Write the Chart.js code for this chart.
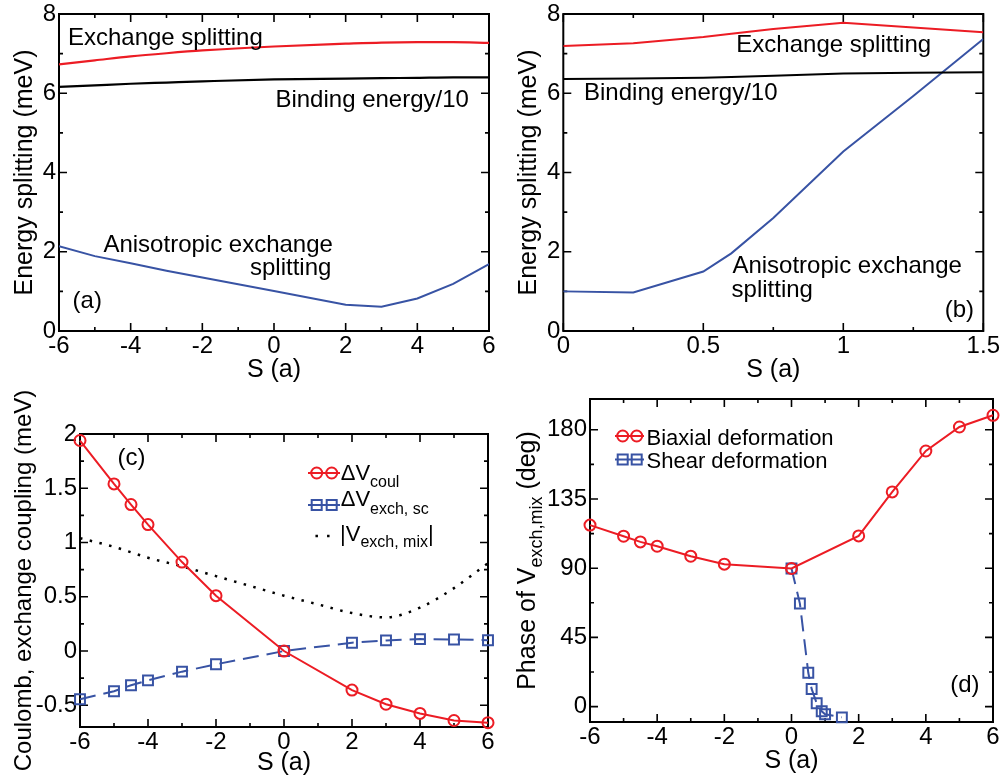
<!DOCTYPE html>
<html>
<head>
<meta charset="utf-8">
<script src="https://cdn.jsdelivr.net/npm/chart.js@4.4.1/dist/chart.umd.min.js"></script>
<style>
  body { margin: 0; background: #fff; }
  #wrap { position: relative; width: 1004px; height: 778px; }
  canvas { position: absolute; }
</style>
</head>
<body>
<div id="wrap">
  <canvas id="ca" width="500" height="390" style="left:0;top:0"></canvas>
  <canvas id="cb" width="504" height="390" style="left:500px;top:0"></canvas>
  <canvas id="cc" width="500" height="388" style="left:0;top:390px"></canvas>
  <canvas id="cd" width="504" height="388" style="left:500px;top:390px"></canvas>
</div>
<script>
// (a) biaxial strain
var sA = [-6, -5, -4, -3, -2, 0, 2, 3, 4, 5, 6];
var exchA = [6.73, 6.83, 6.93, 7.01, 7.08, 7.18, 7.25, 7.28, 7.29, 7.29, 7.27];
var bindA = [6.16, 6.20, 6.24, 6.27, 6.30, 6.35, 6.37, 6.38, 6.39, 6.40, 6.40];
var anisoA = [2.14, 1.89, 1.71, 1.52, 1.35, 1.01, 0.66, 0.61, 0.82, 1.19, 1.69];

// (b) shear strain
var sB = [0, 0.25, 0.5, 0.6, 0.75, 1, 1.25, 1.5];
var exchB = [7.19, 7.26, 7.42, 7.50, 7.62, 7.78, 7.66, 7.54];
var bindB = [6.36, 6.37, 6.39, 6.41, 6.44, 6.50, 6.52, 6.53];
var anisoB = [1.00, 0.97, 1.50, 1.96, 2.85, 4.53, 5.93, 7.37];

// (c) coulomb / exchange couplings
var sC = [-6, -5, -4.5, -4, -3, -2, 0, 2, 3, 4, 5, 6];
var coulC = [1.94, 1.54, 1.35, 1.165, 0.82, 0.51, 0, -0.36, -0.49, -0.575, -0.64, -0.66];
var exchScC = [-0.444, -0.37, -0.315, -0.27, -0.19, -0.122, 0, 0.077, 0.098, 0.11, 0.107, 0.10];
var sMixC = [-6, -5, -4, -3, -2, -1, 0, 1, 2, 3, 4, 5, 6];
var mixC = [1.04, 0.96, 0.86, 0.78, 0.69, 0.60, 0.51, 0.43, 0.35, 0.31, 0.40, 0.58, 0.81];

// (d) phase of V_exch,mix
var sD = [-6, -5, -4.5, -4, -3, -2, 0, 2, 3, 4, 5, 6];
var biaxD = [118, 110.8, 107.1, 104.3, 97.8, 92.6, 89.8, 111, 139.6, 166.2, 181.8, 189.4];
var sShearD = [0, 0.25, 0.5, 0.6, 0.75, 0.9, 1, 1.5];
var shearD = [89.8, 67, 22, 11.5, 2.2, -3, -5, -7];

// tick labels
var xTicksS = [-6, -4, -2, 0, 2, 4, 6];
var xTicksB = [0, 0.5, 1, 1.5];
var yTicksE = [0, 2, 4, 6, 8];
var yTicksC = [-0.5, 0, 0.5, 1, 1.5, 2];
var yTicksD = [0, 45, 90, 135, 180];

var FONT = '"Liberation Sans", Arial, Helvetica, sans-serif';
var RED = '#ec1c24';
var BLUE = '#3853a4';

function pts(xs, ys) {
  return xs.map(function (x, i) { return {x: x, y: ys[i]}; });
}

function font(size) { return size + 'px ' + FONT; }

function stepValues(min, max, step) {
  var out = [];
  for (var i = Math.ceil(min / step - 1e-6); i * step <= max + 1e-6; i++) {
    out.push(+(i * step).toFixed(6));
  }
  return out;
}

function isMajor(v, list) {
  return list.some(function (m) { return Math.abs(m - v) < 1e-6; });
}

function runsWidth(ctx, runs) {
  var w = 0;
  runs.forEach(function (r) { ctx.font = font(r.s); w += ctx.measureText(r.t).width; });
  return w;
}

function drawRuns(ctx, runs, x, y) {
  runs.forEach(function (r) {
    ctx.font = font(r.s);
    ctx.fillText(r.t, x, y + (r.dy || 0));
    x += ctx.measureText(r.t).width;
  });
}

// frame, inward ticks on all four sides, axis titles, notes and legend
function makeDecor(cfg) {
  return {
    id: 'decor',
    beforeDatasetsDraw: function (chart) {
      var ctx = chart.ctx, a = chart.chartArea;
      var sx = chart.scales.x, sy = chart.scales.y;
      ctx.save();
      ctx.strokeStyle = '#000';
      ctx.lineWidth = 2;
      ctx.strokeRect(a.left, a.top, a.right - a.left, a.bottom - a.top);
      ctx.lineWidth = 1.6;
      ctx.beginPath();
      stepValues(sx.min, sx.max, cfg.xStep).forEach(function (v) {
        var p = sx.getPixelForValue(v), len = isMajor(v, cfg.xMajor) ? 8 : 4;
        ctx.moveTo(p, a.bottom); ctx.lineTo(p, a.bottom - len);
        ctx.moveTo(p, a.top); ctx.lineTo(p, a.top + len);
      });
      stepValues(sy.min, sy.max, cfg.yStep).forEach(function (v) {
        var p = sy.getPixelForValue(v), len = isMajor(v, cfg.yMajor) ? 8 : 4;
        ctx.moveTo(a.left, p); ctx.lineTo(a.left + len, p);
        ctx.moveTo(a.right, p); ctx.lineTo(a.right - len, p);
      });
      ctx.stroke();
      ctx.restore();
    },
    afterDatasetsDraw: function (chart) {
      var ctx = chart.ctx, a = chart.chartArea;
      var sx = chart.scales.x, sy = chart.scales.y;
      ctx.save();
      ctx.fillStyle = '#000';
      ctx.textBaseline = 'alphabetic';
      ctx.textAlign = 'left';

      // x title
      var w = runsWidth(ctx, cfg.xTitle);
      drawRuns(ctx, cfg.xTitle, (a.left + a.right) / 2 - w / 2, cfg.xTitleBase);

      // y title, reading upwards
      w = runsWidth(ctx, cfg.yTitle);
      ctx.save();
      ctx.translate(cfg.yTitleBase, (a.top + a.bottom) / 2);
      ctx.rotate(-Math.PI / 2);
      drawRuns(ctx, cfg.yTitle, -w / 2, 0);
      ctx.restore();

      // notes placed in data coordinates
      (cfg.notes || []).forEach(function (n) {
        ctx.font = font(n.s || 24);
        ctx.textAlign = n.align || 'left';
        ctx.fillText(n.t, sx.getPixelForValue(n.x), sy.getPixelForValue(n.y));
      });
      ctx.textAlign = 'left';

      // legend rows, offsets from the top-left corner of the plot
      (cfg.legend || []).forEach(function (r) {
        var my = a.top + r.my;
        ctx.strokeStyle = r.color;
        ctx.fillStyle = r.color;
        ctx.lineWidth = 2;
        if (r.mark === 'dot') {
          r.mx.forEach(function (x) { ctx.fillRect(a.left + x - 1.25, my - 1.25, 2.5, 2.5); });
        } else {
          ctx.beginPath();
          ctx.moveTo(a.left + r.line[0], my);
          ctx.lineTo(a.left + r.line[1], my);
          ctx.stroke();
          r.mx.forEach(function (x) {
            ctx.beginPath();
            if (r.mark === 'circle') {
              ctx.arc(a.left + x, my, 5.5, 0, Math.PI * 2);
            } else {
              ctx.rect(a.left + x - 5, my - 5, 10, 10);
            }
            ctx.stroke();
          });
        }
        ctx.fillStyle = '#000';
        drawRuns(ctx, r.runs, a.left + r.tx, a.top + r.ty);
      });
      ctx.restore();
    }
  };
}

function axis(a, size, horiz) {
  return {
    type: 'linear',
    min: a.min,
    max: a.max,
    grid: {display: false, drawTicks: false},
    border: {display: false},
    ticks: {
      color: '#000',
      font: {family: FONT, size: 24},
      padding: horiz ? 1 : 3,
      autoSkip: false,
      maxRotation: 0,
      callback: function (v) { return String(v); }
    },
    afterBuildTicks: function (s) {
      s.ticks = a.ticks.map(function (v) { return {value: v}; });
    },
    afterFit: function (s) {
      if (horiz) { s.height = size; s.paddingLeft = 0; s.paddingRight = 0; }
      else { s.width = size; s.paddingTop = 0; s.paddingBottom = 0; }
    }
  };
}

// box = plot area inside the canvas: [left, top, right, bottom]
function makePanel(id, box, x, y, datasets, decorCfg) {
  var cv = document.getElementById(id);
  return new Chart(cv, {
    type: 'scatter',
    data: {datasets: datasets},
    options: {
      responsive: false,
      animation: false,
      events: [],
      layout: {
        autoPadding: false,
        padding: {left: 0, top: box[1], right: cv.width - box[2], bottom: 0}
      },
      plugins: {legend: {display: false}, tooltip: {enabled: false}},
      scales: {
        x: axis(x, cv.height - box[3], true),
        y: axis(y, box[0], false)
      }
    },
    plugins: [makeDecor(decorCfg)]
  });
}

function curve(xs, ys, color, extra) {
  var d = {
    data: pts(xs, ys),
    showLine: true,
    borderColor: color,
    borderWidth: 2,
    pointRadius: 0,
    tension: 0
  };
  for (var k in extra) d[k] = extra[k];
  return d;
}

function marked(xs, ys, color, style, extra) {
  var d = curve(xs, ys, color, {
    pointStyle: style,
    pointRadius: style === 'rect' ? 7 : 5.5,
    pointBorderWidth: 2,
    pointBorderColor: color,
    pointBackgroundColor: 'rgba(0,0,0,0)',
    clip: false
  });
  for (var k in extra) d[k] = extra[k];
  return d;
}

var energyTitle = [{t: 'Energy splitting (meV)', s: 25}];
var sTitle = [{t: 'S (a)', s: 25}];

makePanel('ca', [59, 14, 489, 331],
  {min: -6, max: 6, ticks: xTicksS}, {min: 0, max: 8, ticks: yTicksE},
  [
    curve(sA, exchA, RED, {cubicInterpolationMode: 'monotone', borderWidth: 2.2}),
    curve(sA, bindA, '#000', {cubicInterpolationMode: 'monotone', borderWidth: 2.2}),
    curve(sA, anisoA, BLUE)
  ],
  {
    xStep: 1, yStep: 1, xMajor: xTicksS, yMajor: yTicksE,
    xTitle: sTitle, xTitleBase: 377,
    yTitle: energyTitle, yTitleBase: 32,
    notes: [
      {t: 'Exchange splitting', x: -5.75, y: 7.22},
      {t: 'Binding energy/10', x: 0.04, y: 5.66},
      {t: 'Anisotropic exchange', x: -4.76, y: 2.0},
      {t: 'splitting', x: -0.67, y: 1.41},
      {t: '(a)', x: -5.62, y: 0.57}
    ]
  });

makePanel('cb', [63.3, 14, 483.3, 331],
  {min: 0, max: 1.5, ticks: xTicksB}, {min: 0, max: 8, ticks: yTicksE},
  [
    curve(sB, exchB, RED),
    curve(sB, bindB, '#000'),
    curve(sB, anisoB, BLUE)
  ],
  {
    xStep: 0.25, yStep: 1, xMajor: xTicksB, yMajor: yTicksE,
    xTitle: sTitle, xTitleBase: 377,
    yTitle: energyTitle, yTitleBase: 36,
    notes: [
      {t: 'Exchange splitting', x: 0.618, y: 7.05},
      {t: 'Binding energy/10', x: 0.074, y: 5.82},
      {t: 'Anisotropic exchange', x: 0.604, y: 1.46},
      {t: 'splitting', x: 0.601, y: 0.87},
      {t: '(b)', x: 1.467, y: 0.36, align: 'right'}
    ]
  });

makePanel('cc', [80, 44, 488, 337],
  {min: -6, max: 6, ticks: xTicksS}, {min: -0.7, max: 2, ticks: yTicksC},
  [
    marked(sC, coulC, RED, 'circle'),
    marked(sC, exchScC, BLUE, 'rect', {borderDash: [16, 8]}),
    curve(sMixC, mixC, '#000', {borderDash: [2.5, 7.5], borderWidth: 2.5, cubicInterpolationMode: 'monotone'})
  ],
  {
    xStep: 1, yStep: 0.25, xMajor: xTicksS, yMajor: yTicksC,
    xTitle: sTitle, xTitleBase: 380,
    yTitle: [{t: 'Coulomb, exchange coupling (meV)', s: 24}], yTitleBase: 31,
    notes: [{t: '(c)', x: -4.9, y: 1.71}],
    legend: [
      {mark: 'circle', color: RED, mx: [236.7, 251.7], line: [228, 260], my: 39,
        tx: 260.7, ty: 45.5, runs: [{t: '\u0394V', s: 22}, {t: 'coul', s: 16, dy: 7}]},
      {mark: 'rect', color: BLUE, mx: [236.7, 251.7], line: [228, 260], my: 71,
        tx: 260.7, ty: 72, runs: [{t: '\u0394V', s: 22}, {t: 'exch, sc', s: 16, dy: 8}]},
      {mark: 'dot', color: '#000', mx: [236.7, 248.3], my: 102,
        tx: 260, ty: 106.7, runs: [{t: '|V', s: 22}, {t: 'exch, mix', s: 16, dy: 6}, {t: '|', s: 22}]}
    ]
  });

makePanel('cd', [90, 9, 493, 332],
  {min: -6, max: 6, ticks: xTicksS}, {min: -10, max: 200, ticks: yTicksD},
  [
    marked(sD, biaxD, RED, 'circle'),
    marked(sShearD, shearD, BLUE, 'rect', {borderDash: [16, 8]})
  ],
  {
    xStep: 1, yStep: 22.5, xMajor: xTicksS, yMajor: yTicksD,
    xTitle: sTitle, xTitleBase: 378,
    yTitle: [{t: 'Phase of V', s: 25}, {t: 'exch,mix', s: 18, dy: 7}, {t: ' (deg)', s: 25}],
    yTitleBase: 35,
    notes: [{t: '(d)', x: 5.6, y: 9.3, align: 'right'}],
    legend: [
      {mark: 'circle', color: RED, mx: [32.7, 46.7], line: [25, 54], my: 37,
        tx: 56.5, ty: 46, runs: [{t: 'Biaxial deformation', s: 22}]},
      {mark: 'rect', color: BLUE, mx: [32.7, 46.7], line: [25, 54], my: 60.5,
        tx: 56.5, ty: 69, runs: [{t: 'Shear deformation', s: 22}]}
    ]
  });
</script>
</body>
</html>
